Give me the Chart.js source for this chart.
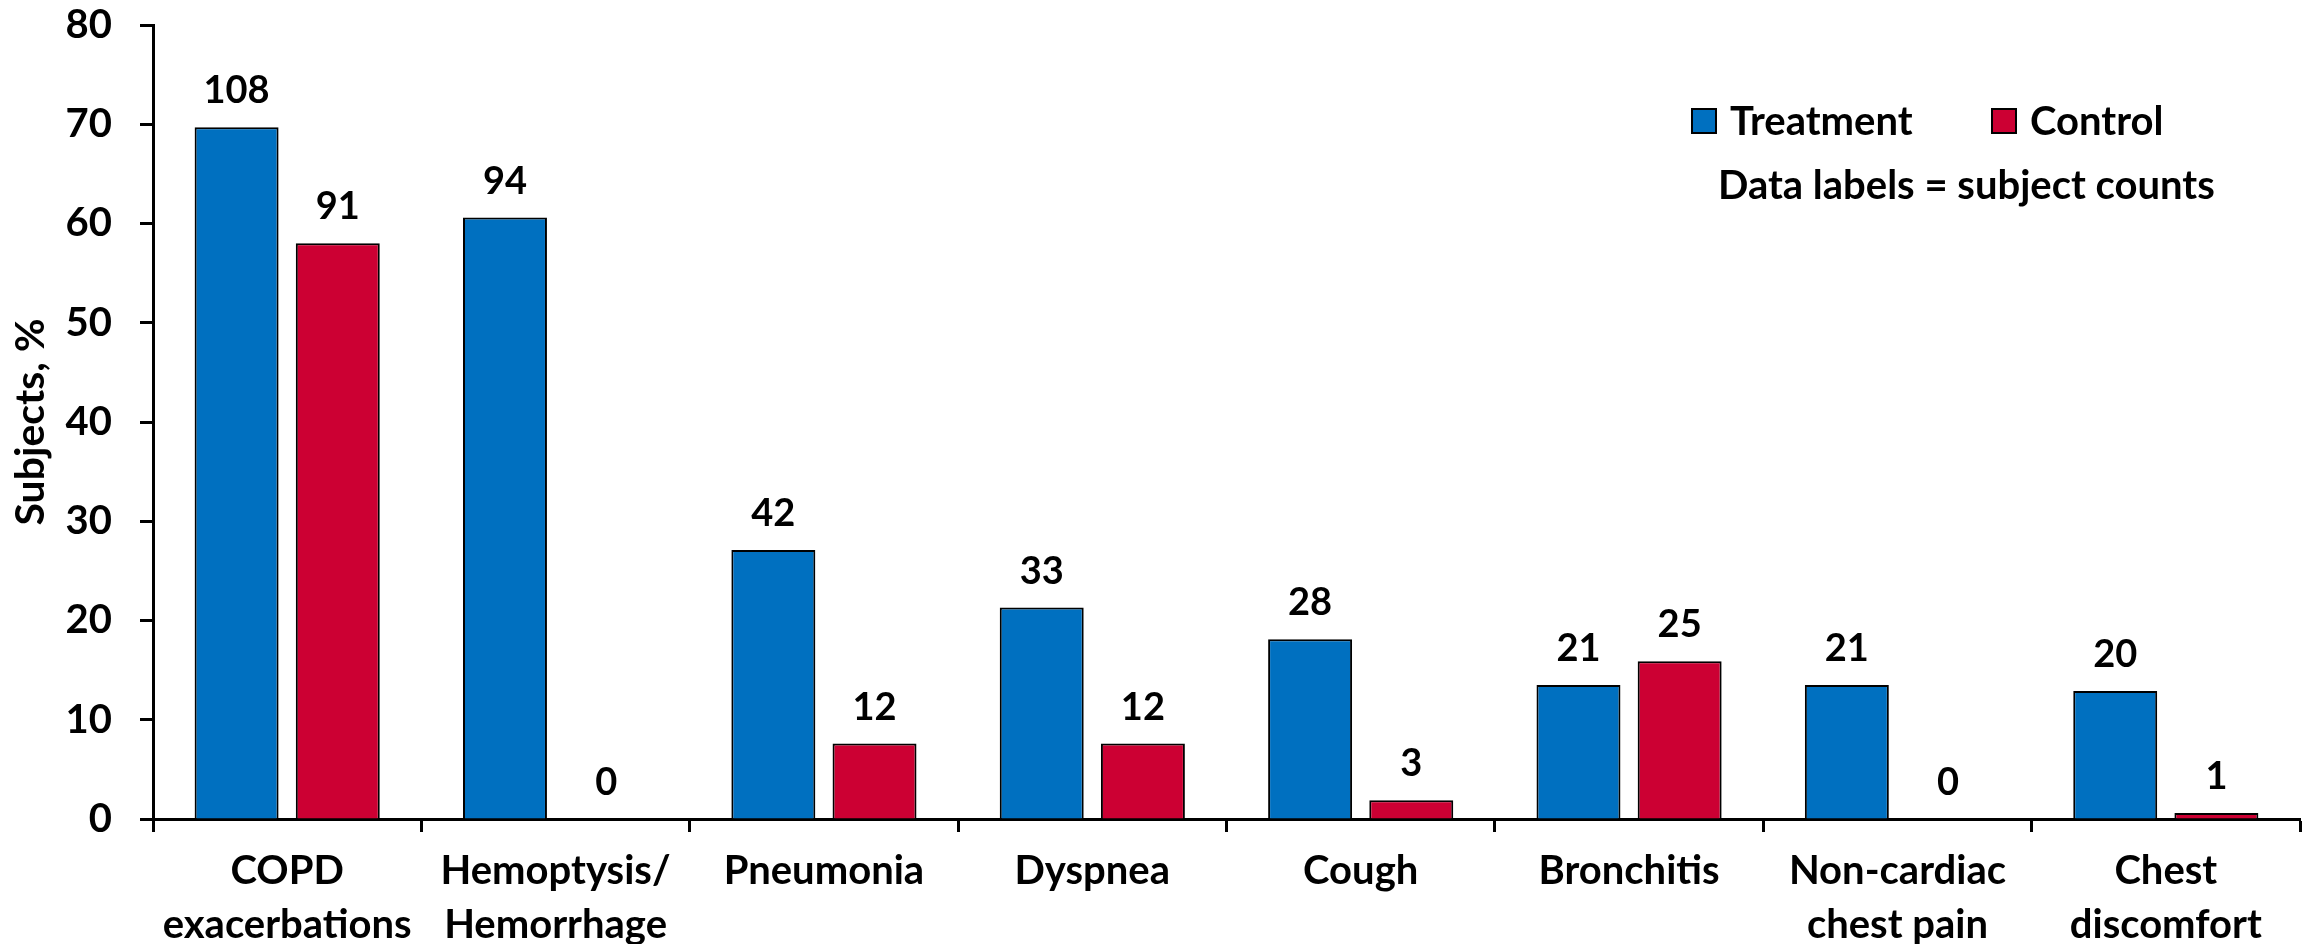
<!DOCTYPE html>
<html>
<head>
<meta charset="utf-8">
<script src="https://cdn.jsdelivr.net/npm/chart.js@4"></script>
<style>
  html,body{margin:0;padding:0;background:#fff;}
  #wrap{width:2305px;height:944px;position:relative;}
</style>
</head>
<body>
<div id="wrap"><canvas id="grafico"></canvas></div>
<script>
// categorias e séries (% de sujeitos) com as contagens que vão em cima das barras
const categorias = [
  ["COPD","exacerbations"],
  ["Hemoptysis/","Hemorrhage"],
  "Pneumonia",
  "Dyspnea",
  "Cough",
  "Bronchitis",
  ["Non-cardiac","chest pain"],
  ["Chest","discomfort"]
];
const tratamentoPct = [69.7, 60.6, 27.1, 21.3, 18.1, 13.5, 13.5, 12.9];
const controlePct   = [58.0, 0, 7.6, 7.6, 1.9, 15.9, 0, 0.6];
const tratamentoN = [108, 94, 42, 33, 28, 21, 21, 20];
const controleN   = [91, 0, 12, 12, 3, 25, 0, 1];
const ticksY = [0,10,20,30,40,50,60,70,80];
const nota = "Data labels = subject counts";

const FONTE = "Lato, 'Open Sans', sans-serif";
const azul = "#0070C0", vermelho = "#CC0033";

// contagens acima de cada barra
const rotulos = {
  id:"rotulos",
  afterDatasetsDraw(chart){
    const ctx = chart.ctx;
    ctx.save();
    ctx.font = "bold 38px " + FONTE;
    ctx.fillStyle = "#000";
    ctx.textAlign = "center";
    ctx.textBaseline = "alphabetic";
    chart.data.datasets.forEach((ds,i)=>{
      chart.getDatasetMeta(i).data.forEach((bar,j)=>{
        ctx.fillText(String(ds.contagens[j]), bar.x, bar.y - 24);
      });
    });
    ctx.restore();
  }
};

// legenda e nota no canto superior direito
const legenda = {
  id:"legenda",
  afterDraw(chart){
    const ctx = chart.ctx;
    ctx.save();
    ctx.font = "bold 40px " + FONTE;
    ctx.textBaseline = "middle";
    ctx.textAlign = "left";
    const xs = [1692, 1992];
    const y = 121;
    chart.data.datasets.forEach((ds,i)=>{
      const x = xs[i];
      ctx.fillStyle = ds.backgroundColor;
      ctx.fillRect(x, y-12, 24, 24);
      ctx.strokeStyle = "#000"; ctx.lineWidth = 2;
      ctx.strokeRect(x, y-12, 24, 24);
      ctx.fillStyle = "#000";
      ctx.fillText(ds.label, x + 38, y + 1);
    });
    ctx.fillText(nota, 1718, 186);
    ctx.restore();
  }
};

grafico = new Chart(document.getElementById("grafico"), {
  type:"bar",
  data:{
    labels:categorias,
    datasets:[
      {label:"Treatment", data:tratamentoPct, contagens:tratamentoN, backgroundColor:azul, borderColor:"#000", borderWidth:2},
      {label:"Control", data:controlePct, contagens:controleN, backgroundColor:vermelho, borderColor:"#000", borderWidth:2}
    ]
  },
  options:{
    responsive:true,
    maintainAspectRatio:false,
    animation:false,
    layout:{padding:{top:25,right:5,left:0,bottom:0}},
    categoryPercentage:0.754,
    barPercentage:0.83,
    plugins:{legend:{display:false}, tooltip:{enabled:false}},
    scales:{
      x:{
        grid:{offset:true, drawOnChartArea:false, tickLength:13, tickWidth:3, tickColor:"#000", color:"#000"},
        border:{color:"#000", width:3},
        ticks:{color:"#000", font:{family:FONTE, size:40, weight:"bold", lineHeight:1.35}, padding:12, maxRotation:0, autoSkip:false},
        afterFit(s){ s.height = 125; }
      },
      y:{
        min:0, max:80,
        afterBuildTicks(s){ s.ticks = ticksY.map(v=>({value:v})); },
        grid:{drawOnChartArea:false, tickLength:13, tickWidth:3, tickColor:"#000", color:"#000"},
        border:{color:"#000", width:3},
        ticks:{color:"#000", font:{family:FONTE, size:40, weight:"bold"}, padding:28},
        title:{display:true, text:"Subjects, %", color:"#000", font:{family:FONTE, size:41, weight:"bold"}, padding:{top:6,bottom:0}},
        // a área do gráfico começa no próprio 80
        afterFit(s){ s.width = 153; s.paddingTop = 0; s.paddingBottom = 0; }
      }
    }
  },
  plugins:[rotulos, legenda]
});
</script>
</body>
</html>
